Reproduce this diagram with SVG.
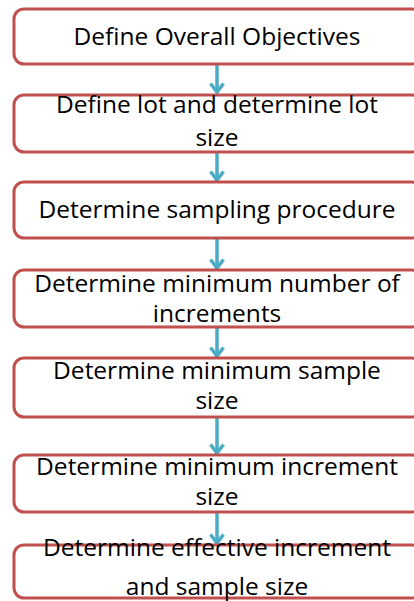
<svg xmlns="http://www.w3.org/2000/svg" width="414" height="601" viewBox="0 0 414 601">
<defs>
<style>
.box{fill:#fff;stroke:#C0504D;stroke-width:3}
.t{font-family:"Open Sans","Liberation Sans",sans-serif;font-size:24.5px;fill:#000;text-anchor:middle}
.c{stroke:#4BACC6;stroke-width:3.5;fill:none}
</style>
<marker id="ah" markerWidth="14" markerHeight="18" refX="0" refY="0" orient="auto" markerUnits="userSpaceOnUse" viewBox="-12 -9 14 18">
<path d="M-9.5,-6.5 L-1,0 L-9.5,6.5" fill="none" stroke="#4BACC6" stroke-width="3.5"/>
</marker>
</defs>
<rect width="414" height="601" fill="#fff"/>
<g id="connectors">
<line class="c" x1="217" y1="65" x2="217" y2="93" marker-end="url(#ah)"/>
<line class="c" x1="217" y1="153" x2="217" y2="181" marker-end="url(#ah)"/>
<line class="c" x1="217" y1="239" x2="217" y2="269" marker-end="url(#ah)"/>
<line class="c" x1="217" y1="328" x2="217" y2="357" marker-end="url(#ah)"/>
<line class="c" x1="217" y1="418" x2="217" y2="454" marker-end="url(#ah)"/>
<line class="c" x1="217" y1="513" x2="217" y2="544" marker-end="url(#ah)"/>
</g>
<g id="n1"><rect class="box" x="14" y="9" width="408" height="55" rx="10"/><text class="t" x="217" y="45">Define Overall Objectives</text></g>
<g id="n2"><rect class="box" x="14" y="95" width="408" height="57" rx="10"/><text class="t" x="217" y="113">Define lot and determine lot</text><text class="t" x="217" y="146">size</text></g>
<g id="n3"><rect class="box" x="14" y="182" width="408" height="56" rx="10"/><text class="t" x="217" y="218">Determine sampling procedure</text></g>
<g id="n4"><rect class="box" x="14" y="270" width="408" height="57" rx="10"/><text class="t" x="217" y="292">Determine minimum number of</text><text class="t" x="217" y="322">increments</text></g>
<g id="n5"><rect class="box" x="14" y="358" width="408" height="59" rx="10"/><text class="t" x="217" y="379">Determine minimum sample</text><text class="t" x="217" y="409">size</text></g>
<g id="n6"><rect class="box" x="14" y="455" width="408" height="57" rx="10"/><text class="t" x="217" y="475">Determine minimum increment</text><text class="t" x="217" y="505">size</text></g>
<g id="n7"><rect class="box" x="14" y="545" width="408" height="53" rx="10"/><text class="t" x="217" y="556">Determine effective increment</text><text class="t" x="217" y="595">and sample size</text></g>
</svg>
